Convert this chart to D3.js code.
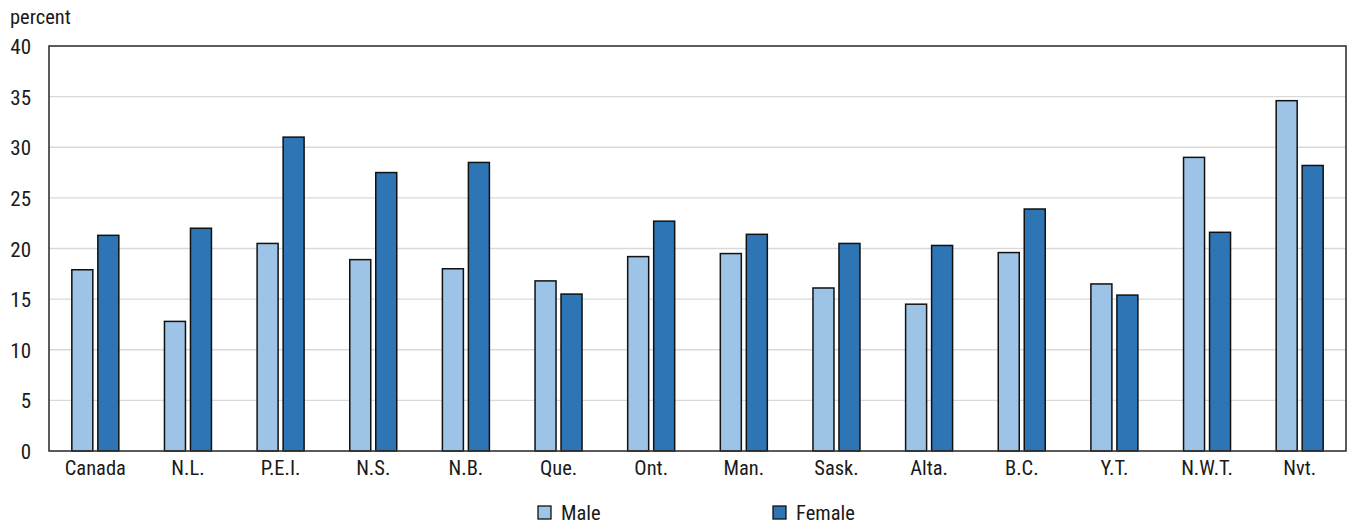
<!DOCTYPE html>
<html>
<head>
<meta charset="utf-8">
<script src="https://cdn.jsdelivr.net/npm/d3@7"></script>
<style>
  body { margin: 0; background: #fff; }
  svg text { font-family: "Liberation Sans Narrow", "Roboto Condensed", "Arial Narrow", "Liberation Sans", sans-serif; fill: #1a1a1a; }
</style>
</head>
<body>
<svg id="chart" width="1349" height="525"></svg>
<script>
// Share of population by sex, per province/territory (percent)
const categories = ["Canada", "N.L.", "P.E.I.", "N.S.", "N.B.", "Que.", "Ont.", "Man.", "Sask.", "Alta.", "B.C.", "Y.T.", "N.W.T.", "Nvt."];
const maleValues   = [17.9, 12.8, 20.5, 18.9, 18.0, 16.8, 19.2, 19.5, 16.1, 14.5, 19.6, 16.5, 29.0, 34.6];
const femaleValues = [21.3, 22.0, 31.0, 27.5, 28.5, 15.5, 22.7, 21.4, 20.5, 20.3, 23.9, 15.4, 21.6, 28.2];
const seriesNames = ["Male", "Female"];
const seriesColors = ["#9dc3e6", "#2e75b6"];
const yTicks = [0, 5, 10, 15, 20, 25, 30, 35, 40];
const yLabel = "percent";

const svg = d3.select("#chart");
const m = { left: 49, right: 3, top: 46, bottom: 74 };
const W = 1349, H = 525;
const iw = W - m.left - m.right, ih = H - m.top - m.bottom;

const g = svg.append("g").attr("transform", `translate(${m.left},${m.top})`);

const x0 = d3.scaleBand().domain(categories).range([0, iw]).padding(0);
const barW = 21, gap = 5, step = barW + gap;
const inner = gap / step;
const outer = (x0.bandwidth() / step - 2 + inner) / 2;
const x1 = d3.scaleBand().domain(seriesNames).range([0, x0.bandwidth()])
  .paddingInner(inner).paddingOuter(outer);
const y = d3.scaleLinear().domain([0, 40]).range([ih, 0]);

// horizontal gridlines
g.append("g").selectAll("line").data(yTicks.filter(t => t > 0 && t < 40)).join("line")
  .attr("x1", 0).attr("x2", iw)
  .attr("y1", d => y(d)).attr("y2", d => y(d))
  .attr("stroke", "#d9d9d9").attr("stroke-width", 1.3);

// bars
const rows = categories.map((c, i) => ({ cat: c, vals: [maleValues[i], femaleValues[i]] }));
const groups = g.append("g").selectAll("g").data(rows).join("g")
  .attr("transform", d => `translate(${x0(d.cat)},0)`);
groups.selectAll("rect").data(d => d.vals.map((v, k) => ({ key: seriesNames[k], v, k })))
  .join("rect")
  .attr("x", d => x1(d.key))
  .attr("width", x1.bandwidth())
  .attr("y", d => y(d.v))
  .attr("height", d => y(0) - y(d.v))
  .attr("fill", d => seriesColors[d.k])
  .attr("stroke", "#111")
  .attr("stroke-width", 1.5);

// frame
g.append("rect").attr("x", 0).attr("y", 0).attr("width", iw).attr("height", ih)
  .attr("fill", "none").attr("stroke", "#333").attr("stroke-width", 1.6);

// y axis
const yAxis = g.append("g").call(d3.axisLeft(y).tickValues(yTicks).tickSize(0).tickPadding(18));
yAxis.select(".domain").remove();
yAxis.selectAll("text").style("font-size", "21px").attr("dy", "0.36em");

// x axis
const xAxis = g.append("g").attr("transform", `translate(0,${ih})`)
  .call(d3.axisBottom(x0).tickSize(0).tickPadding(9));
xAxis.select(".domain").remove();
xAxis.selectAll("text").style("font-size", "20.5px");

// unit label
svg.append("text").attr("x", 10).attr("y", 24).style("font-size", "20.5px").text(yLabel);

// legend
const legendX = [538, 773];
const legend = svg.append("g").selectAll("g").data(seriesNames).join("g")
  .attr("transform", (d, i) => `translate(${legendX[i]},506)`);
legend.append("rect").attr("width", 13).attr("height", 13)
  .attr("fill", (d, i) => seriesColors[i]).attr("stroke", "#111").attr("stroke-width", 1.3);
legend.append("text").attr("x", 23).attr("y", 14).style("font-size", "20.5px").text(d => d);
</script>
</body>
</html>
